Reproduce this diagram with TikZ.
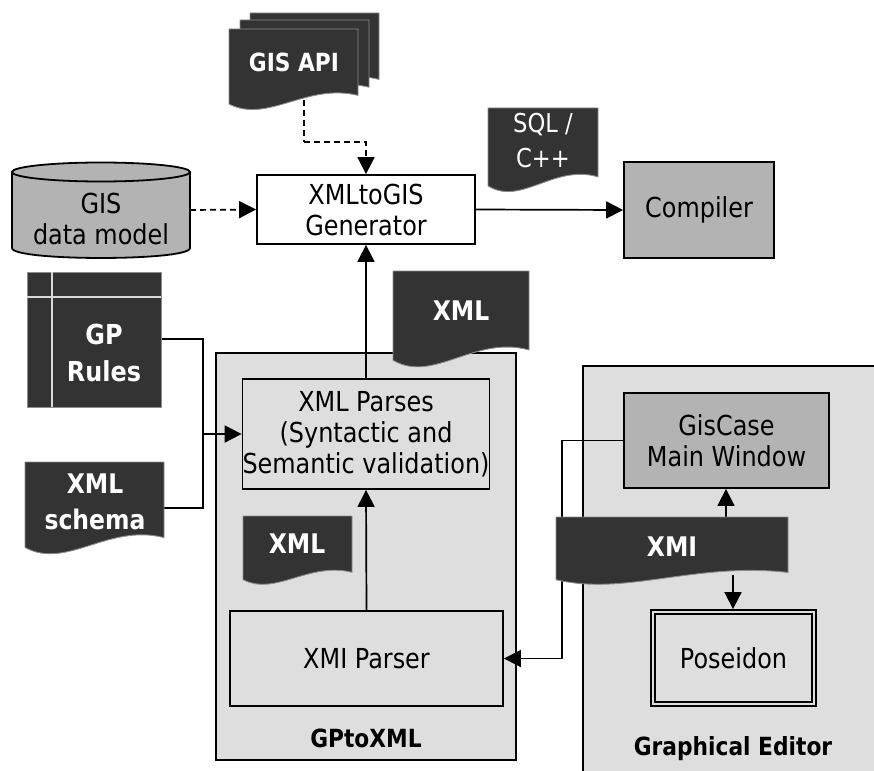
\documentclass[tikz,border=0pt]{standalone}
\usepackage{fontspec}
\setmainfont{DejaVu Sans}[FakeStretch=0.87]
\usetikzlibrary{arrows.meta}
\definecolor{docdark}{HTML}{333333}
\definecolor{boxgray}{HTML}{B3B3B3}
\definecolor{contgray}{HTML}{DEDEDE}
\definecolor{docedge}{HTML}{8C8C8C}
\newcommand{\docshape}[4]{%
  \pgfmathsetmacro\dw{#3-#1}\pgfmathsetmacro\dh{#4-#2}%
  \filldraw[docstyle] (#1,#2) -- (#3,#2) -- (#3,{#4-0.16*\dh})
    .. controls ({#1+0.6*\dw},{#4-0.32*\dh}) and ({#1+0.3*\dw},{#4+0.2*\dh}) ..
    (#1,{#4-0.05*\dh}) -- cycle;}
\tikzset{
  docstyle/.style={fill=docdark, draw=docedge, line width=0.9pt},
  doctext/.style={text=white, font=\fontsize{27}{36}\selectfont\bfseries, align=center, inner sep=0pt},
  docreg/.style={text=white, font=\fontsize{26}{35}\selectfont, align=center, inner sep=0pt},
  lbl/.style={font=\fontsize{27.5}{31}\selectfont, align=center, inner sep=0pt},
  boldlbl/.style={font=\fontsize{25}{30}\selectfont\bfseries, align=center, inner sep=0pt},
  box/.style={draw=black, line width=1.8pt, font=\fontsize{27.5}{31}\selectfont, align=center, inner sep=0pt},
  cont/.style={draw=black, line width=1.8pt, fill=contgray},
  conn/.style={line width=1.7pt},
  arr/.style={conn, -{Triangle[length=17pt,width=17pt]}},
  dsh/.style={dash pattern=on 6pt off 4pt},
}
\begin{document}
\begin{tikzpicture}[x=1pt,y=-1pt]
\useasboundingbox (0,0) rectangle (874,770);
% containers
\filldraw[cont] (216,353) rectangle (516,760);
\filldraw[cont] (583,366) rectangle (890,790);
\node[boldlbl] (gplbl) at (366,738) {GPtoXML};
\node[boldlbl] (gelbl) at (733,749) {Graphical Editor};
% cylinder
\fill[boxgray] (12,172) -- (12,248) .. controls (12,261.3) and (190,261.3) .. (190,248) -- (190,172) -- cycle;
\draw[line width=1.8pt] (12,172) -- (12,248) .. controls (12,261.3) and (190,261.3) .. (190,248) -- (190,172);
\filldraw[line width=1.8pt, fill=boxgray] (101,172) ellipse [x radius=89pt, y radius=9.5pt];
\node[lbl] (gisdm) at (101,219) {GIS\\data model};
\coordinate (cylR) at (190,210);
% boxes
\node[box, fill=white, minimum width=218pt, minimum height=69pt] (gen) at (366,209.5) {XMLtoGIS\\Generator};
\node[box, fill=boxgray, minimum width=150pt, minimum height=96pt] (comp) at (699,210) {Compiler};
\node[box, fill=contgray, minimum width=246pt, minimum height=110pt] (parses) at (366,434) {XML Parses\\(Syntactic and\\Semantic validation)};
\node[box, fill=contgray, minimum width=273pt, minimum height=95pt] (xmip) at (366.5,658.5) {XMI Parser};
\node[box, fill=boxgray, minimum width=205pt, minimum height=95pt] (gis) at (726.5,440.5) {GisCase\\Main Window};
\node[box, fill=contgray, minimum width=165pt, minimum height=96pt] (pos) at (733.5,658) {Poseidon};
\draw[line width=1.8pt] ([shift={(5pt,-5pt)}]pos.north west) rectangle ([shift={(-5pt,5pt)}]pos.south east);
% coordinates
\coordinate (apiB) at (304,100);
\coordinate (apiBend) at (304,142);
\coordinate (gprR) at (161,339);
\coordinate (schR) at (164,508);
\coordinate (jn) at (203,434);
\coordinate (xmiT) at (726,520);
\coordinate (xmiB) at (733,575);
% connectors
\draw[conn, dsh] (apiB) -- (apiBend);
\draw[arr, dsh] (apiBend) -| (gen.north);
\draw[arr, dsh] (cylR) -- (gen.west);
\draw[arr] (gen.east) -- (comp.west);
\draw[arr] (parses.north) -- (gen.south);
\draw[conn] (gprR) -| (jn);
\draw[conn] (schR) -| (jn);
\draw[arr] (jn) -- (parses.west);
\draw[arr] (xmip.north) -- (parses.south);
\draw[arr] (gis.west) -- ++(-61,0) |- (xmip.east);
\draw[arr] (xmiT) -- (gis.south -| xmiT);
\draw[arr] (xmiB) -- (pos.north -| xmiB);
% documents
\docshape{250}{13}{379}{92}
\docshape{240}{20}{369}{100}
\docshape{229}{29}{358}{108}
\node[doctext, font=\fontsize{25}{36}\selectfont\bfseries] (api) at (294,62) {GIS API};
\docshape{488}{108}{598}{190}
\node[docreg] (sql) at (543,141) {SQL /\\C++};
\docshape{393}{271}{529}{365}
\node[doctext] (xmltop) at (461,311) {XML};
\docshape{25}{462}{164}{552}
\node[doctext] (schema) at (95,502) {XML\\schema};
\docshape{243}{516}{352}{583}
\node[doctext] (xmlsm) at (297,544) {XML};
\docshape{556}{517}{788}{583}
\node[doctext] (xmi) at (672,547) {XMI};
% GP rules
\node[fill=docdark, draw=docedge, line width=0.9pt, minimum width=134pt, minimum height=135pt, inner sep=0pt] (gpr) at (94,339.5) {};
\draw[white!85!black, line width=1.5pt] (52,272) -- (52,407);
\draw[white!85!black, line width=1.5pt] (27,297) -- (161,297);
\node[doctext, font=\fontsize{27.5}{37}\selectfont\bfseries] (gprt) at (104,353) {GP\\Rules};
\end{tikzpicture}
\end{document}
